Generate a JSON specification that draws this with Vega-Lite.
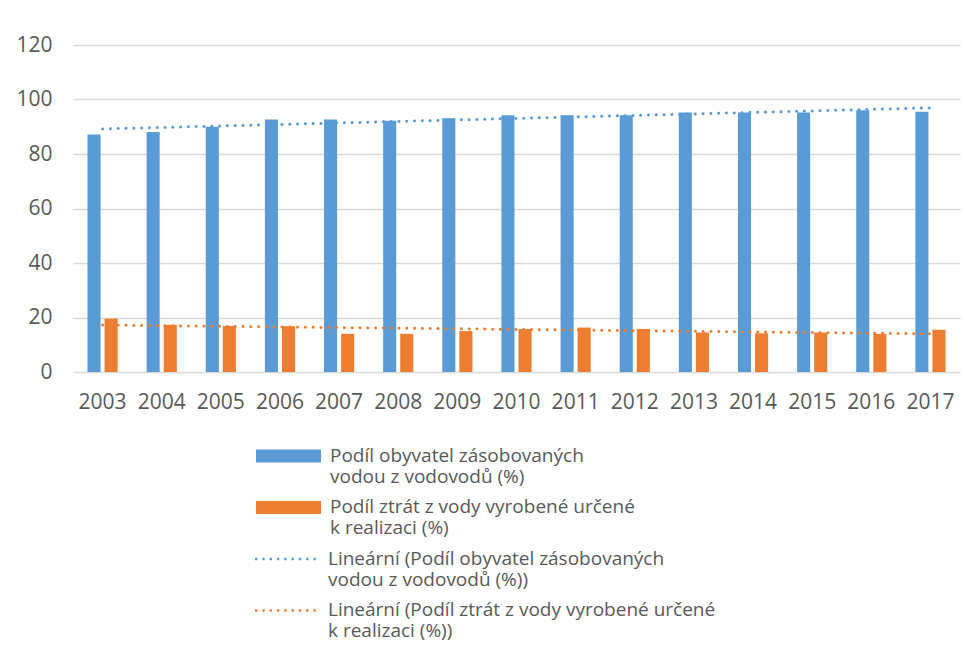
{
  "$schema": "https://vega.github.io/schema/vega-lite/v6.json",
  "autosize": {"type": "none"},
  "padding": {"left": 73, "top": 45, "right": 5, "bottom": 276},
  "width": 887,
  "height": 327,
  "background": "white",
  "config": {
    "view": {"stroke": null},
    "font": "Open Sans"
  },
  "data": {
    "values": [
      {"year": 2003, "series": "Podíl obyvatel zásobovaných vodou z vodovodů (%)", "trend": "Lineární (Podíl obyvatel zásobovaných vodou z vodovodů (%))", "value": 87.2},
      {"year": 2004, "series": "Podíl obyvatel zásobovaných vodou z vodovodů (%)", "trend": "Lineární (Podíl obyvatel zásobovaných vodou z vodovodů (%))", "value": 88.1},
      {"year": 2005, "series": "Podíl obyvatel zásobovaných vodou z vodovodů (%)", "trend": "Lineární (Podíl obyvatel zásobovaných vodou z vodovodů (%))", "value": 90.0},
      {"year": 2006, "series": "Podíl obyvatel zásobovaných vodou z vodovodů (%)", "trend": "Lineární (Podíl obyvatel zásobovaných vodou z vodovodů (%))", "value": 92.7},
      {"year": 2007, "series": "Podíl obyvatel zásobovaných vodou z vodovodů (%)", "trend": "Lineární (Podíl obyvatel zásobovaných vodou z vodovodů (%))", "value": 92.7},
      {"year": 2008, "series": "Podíl obyvatel zásobovaných vodou z vodovodů (%)", "trend": "Lineární (Podíl obyvatel zásobovaných vodou z vodovodů (%))", "value": 92.2},
      {"year": 2009, "series": "Podíl obyvatel zásobovaných vodou z vodovodů (%)", "trend": "Lineární (Podíl obyvatel zásobovaných vodou z vodovodů (%))", "value": 93.1},
      {"year": 2010, "series": "Podíl obyvatel zásobovaných vodou z vodovodů (%)", "trend": "Lineární (Podíl obyvatel zásobovaných vodou z vodovodů (%))", "value": 94.2},
      {"year": 2011, "series": "Podíl obyvatel zásobovaných vodou z vodovodů (%)", "trend": "Lineární (Podíl obyvatel zásobovaných vodou z vodovodů (%))", "value": 94.2},
      {"year": 2012, "series": "Podíl obyvatel zásobovaných vodou z vodovodů (%)", "trend": "Lineární (Podíl obyvatel zásobovaných vodou z vodovodů (%))", "value": 94.2},
      {"year": 2013, "series": "Podíl obyvatel zásobovaných vodou z vodovodů (%)", "trend": "Lineární (Podíl obyvatel zásobovaných vodou z vodovodů (%))", "value": 95.2},
      {"year": 2014, "series": "Podíl obyvatel zásobovaných vodou z vodovodů (%)", "trend": "Lineární (Podíl obyvatel zásobovaných vodou z vodovodů (%))", "value": 95.2},
      {"year": 2015, "series": "Podíl obyvatel zásobovaných vodou z vodovodů (%)", "trend": "Lineární (Podíl obyvatel zásobovaných vodou z vodovodů (%))", "value": 95.2},
      {"year": 2016, "series": "Podíl obyvatel zásobovaných vodou z vodovodů (%)", "trend": "Lineární (Podíl obyvatel zásobovaných vodou z vodovodů (%))", "value": 96.1},
      {"year": 2017, "series": "Podíl obyvatel zásobovaných vodou z vodovodů (%)", "trend": "Lineární (Podíl obyvatel zásobovaných vodou z vodovodů (%))", "value": 95.5},
      {"year": 2003, "series": "Podíl ztrát z vody vyrobené určené k realizaci (%)", "trend": "Lineární (Podíl ztrát z vody vyrobené určené k realizaci (%))", "value": 19.6},
      {"year": 2004, "series": "Podíl ztrát z vody vyrobené určené k realizaci (%)", "trend": "Lineární (Podíl ztrát z vody vyrobené určené k realizaci (%))", "value": 17.3},
      {"year": 2005, "series": "Podíl ztrát z vody vyrobené určené k realizaci (%)", "trend": "Lineární (Podíl ztrát z vody vyrobené určené k realizaci (%))", "value": 16.9},
      {"year": 2006, "series": "Podíl ztrát z vody vyrobené určené k realizaci (%)", "trend": "Lineární (Podíl ztrát z vody vyrobené určené k realizaci (%))", "value": 16.8},
      {"year": 2007, "series": "Podíl ztrát z vody vyrobené určené k realizaci (%)", "trend": "Lineární (Podíl ztrát z vody vyrobené určené k realizaci (%))", "value": 14.0},
      {"year": 2008, "series": "Podíl ztrát z vody vyrobené určené k realizaci (%)", "trend": "Lineární (Podíl ztrát z vody vyrobené určené k realizaci (%))", "value": 14.0},
      {"year": 2009, "series": "Podíl ztrát z vody vyrobené určené k realizaci (%)", "trend": "Lineární (Podíl ztrát z vody vyrobené určené k realizaci (%))", "value": 15.0},
      {"year": 2010, "series": "Podíl ztrát z vody vyrobené určené k realizaci (%)", "trend": "Lineární (Podíl ztrát z vody vyrobené určené k realizaci (%))", "value": 15.8},
      {"year": 2011, "series": "Podíl ztrát z vody vyrobené určené k realizaci (%)", "trend": "Lineární (Podíl ztrát z vody vyrobené určené k realizaci (%))", "value": 16.3},
      {"year": 2012, "series": "Podíl ztrát z vody vyrobené určené k realizaci (%)", "trend": "Lineární (Podíl ztrát z vody vyrobené určené k realizaci (%))", "value": 15.8},
      {"year": 2013, "series": "Podíl ztrát z vody vyrobené určené k realizaci (%)", "trend": "Lineární (Podíl ztrát z vody vyrobené určené k realizaci (%))", "value": 14.5},
      {"year": 2014, "series": "Podíl ztrát z vody vyrobené určené k realizaci (%)", "trend": "Lineární (Podíl ztrát z vody vyrobené určené k realizaci (%))", "value": 14.2},
      {"year": 2015, "series": "Podíl ztrát z vody vyrobené určené k realizaci (%)", "trend": "Lineární (Podíl ztrát z vody vyrobené určené k realizaci (%))", "value": 14.5},
      {"year": 2016, "series": "Podíl ztrát z vody vyrobené určené k realizaci (%)", "trend": "Lineární (Podíl ztrát z vody vyrobené určené k realizaci (%))", "value": 14.0},
      {"year": 2017, "series": "Podíl ztrát z vody vyrobené určené k realizaci (%)", "trend": "Lineární (Podíl ztrát z vody vyrobené určené k realizaci (%))", "value": 15.5}
    ]
  },
  "layer": [
    {
      "mark": {"type": "bar"},
      "encoding": {
        "x": {
          "field": "year",
          "type": "ordinal",
          "scale": {"paddingInner": 0.49, "paddingOuter": 0.245},
          "axis": {
            "title": null,
            "labelAngle": 0,
            "labelFontSize": 21,
            "labelColor": "#595959",
            "labelPadding": 19,
            "ticks": false,
            "domain": false
          }
        },
        "y": {
          "field": "value",
          "type": "quantitative",
          "scale": {"domain": [0, 120]},
          "axis": {
            "title": null,
            "values": [0, 20, 40, 60, 80, 100, 120],
            "labelFontSize": 21,
            "labelColor": "#595959",
            "labelPadding": 21,
            "ticks": false,
            "domain": false,
            "gridColor": "#D9D9D9",
            "gridWidth": 1.3
          }
        },
        "xOffset": {"field": "series", "type": "nominal", "scale": {"paddingInner": 0.235}},
        "color": {
          "field": "series",
          "type": "nominal",
          "scale": {
            "domain": [
              "Podíl obyvatel zásobovaných vodou z vodovodů (%)",
              "Podíl ztrát z vody vyrobené určené k realizaci (%)"
            ],
            "range": ["#5B9BD5", "#ED7D31"]
          },
          "legend": {
            "orient": "none",
            "legendX": 206,
            "legendY": 392,
            "direction": "vertical",
            "title": null,
            "padding": 0,
            "symbolType": "M-5,0.46H5V2.46H-5Z",
            "symbolSize": 169,
            "symbolStrokeWidth": 0,
            "symbolOpacity": 1,
            "labelFontSize": 19,
            "labelColor": "#595959",
            "labelOffset": 32,
            "labelLimit": 600,
            "labelBaseline": "top",
            "rowPadding": 1.5,
            "labelExpr": "indexof(datum.label, ' vodou') > 0 ? [substring(datum.label, 0, indexof(datum.label, ' vodou')), substring(datum.label, indexof(datum.label, ' vodou') + 1)] : [substring(datum.label, 0, indexof(datum.label, ' k realizaci')), substring(datum.label, indexof(datum.label, ' k realizaci') + 1)]"
          }
        }
      }
    },
    {
      "transform": [
        {"regression": "value", "on": "year", "groupby": ["series", "trend"]}
      ],
      "mark": {"type": "line", "strokeWidth": 3, "strokeDash": [0.1, 7.7], "strokeCap": "round"},
      "encoding": {
        "x": {"field": "year", "type": "ordinal"},
        "y": {"field": "value", "type": "quantitative"},
        "stroke": {
          "field": "trend",
          "type": "nominal",
          "scale": {
            "domain": [
              "Lineární (Podíl obyvatel zásobovaných vodou z vodovodů (%))",
              "Lineární (Podíl ztrát z vody vyrobené určené k realizaci (%))"
            ],
            "range": ["#5B9BD5", "#ED7D31"]
          },
          "legend": {
            "orient": "none",
            "legendX": 205,
            "legendY": 495,
            "direction": "vertical",
            "title": null,
            "padding": 0,
            "symbolType": "M-5,1.46H5",
            "symbolSize": 169,
            "symbolStrokeWidth": 2.5,
            "symbolDash": [2.4, 4.9],
            "symbolFillColor": "transparent",
            "symbolOpacity": 1,
            "labelFontSize": 19,
            "labelColor": "#595959",
            "labelOffset": 31,
            "labelLimit": 600,
            "labelBaseline": "top",
            "rowPadding": 1.5,
            "labelExpr": "indexof(datum.label, ' vodou') > 0 ? [substring(datum.label, 0, indexof(datum.label, ' vodou')), substring(datum.label, indexof(datum.label, ' vodou') + 1)] : [substring(datum.label, 0, indexof(datum.label, ' k realizaci')), substring(datum.label, indexof(datum.label, ' k realizaci') + 1)]"
          }
        }
      }
    }
  ]
}
